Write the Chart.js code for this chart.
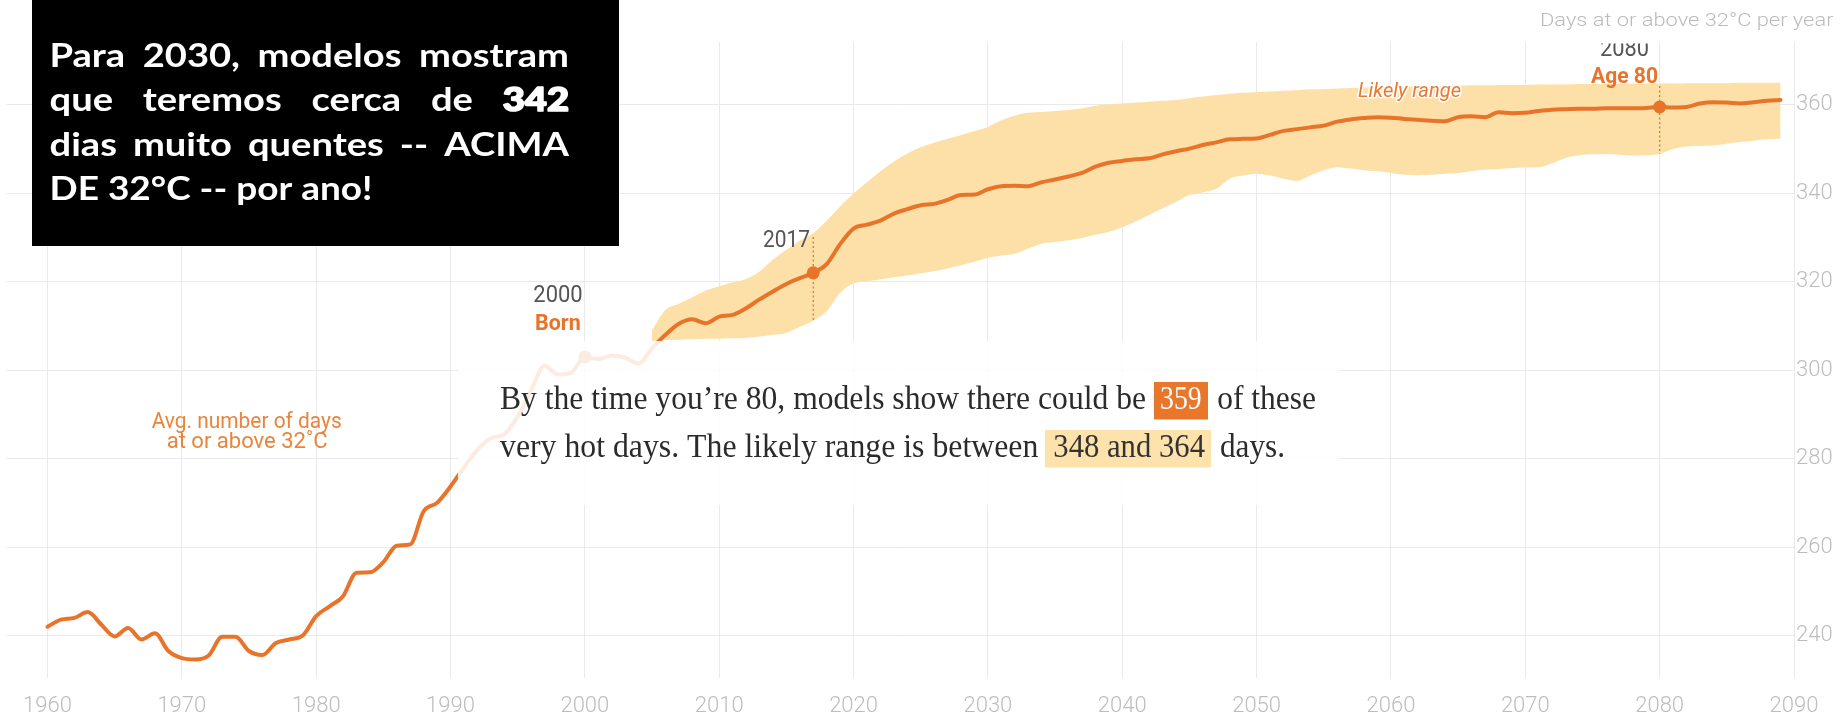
<!DOCTYPE html>
<html>
<head>
<meta charset="utf-8">
<script src="https://cdn.jsdelivr.net/npm/chart.js@4.4.1/dist/chart.umd.min.js"></script>
<style>
  html, body { margin: 0; padding: 0; background: #ffffff; }
  #wrap { position: relative; width: 1845px; height: 725px; }
</style>
</head>
<body>
<div id="wrap"><canvas id="c" width="1845" height="725"></canvas></div>
<script>
// ---------------- DATA ----------------
const years = [
  1960,1961,1962,1963,1964,1965,1966,1967,1968,1969,
  1970,1971,1972,1973,1974,1975,1976,1977,1978,1979,
  1980,1981,1982,1983,1984,1985,1986,1987,1988,1989,
  1990,1991,1992,1993,1994,1995,1996,1997,1998,1999,
  2000,2001,2002,2003,2004,2005,2006,2007,2008,2009,
  2010,2011,2012,2013,2014,2015,2016,2017,2018,2019,
  2020,2021,2022,2023,2024,2025,2026,2027,2028,2029,
  2030,2031,2032,2033,2034,2035,2036,2037,2038,2039,
  2040,2041,2042,2043,2044,2045,2046,2047,2048,2049,
  2050,2051,2052,2053,2054,2055,2056,2057,2058,2059,
  2060,2061,2062,2063,2064,2065,2066,2067,2068,2069,
  2070,2071,2072,2073,2074,2075,2076,2077,2078,2079,
  2080,2081,2082,2083,2084,2085,2086,2087,2088,2089
];
// Avg. number of days at or above 32°C
const avgDays = [
  242.0,243.6,244.0,245.3,242.5,239.8,241.7,239.1,240.5,236.5,
  234.9,234.6,235.5,239.7,239.7,236.5,235.6,238.3,239.1,240.0,
  244.4,246.6,248.9,254.2,254.3,256.6,260.3,260.6,268.1,270.0,
  273.7,278.0,282.0,284.6,285.5,289.5,295.5,301.0,299.0,299.5,
  303.0,302.5,303.3,302.8,301.5,305.0,308.0,310.5,311.5,310.6,
  312.1,312.5,314.0,316.0,317.8,319.5,320.8,322.0,324.0,328.5,
  332.0,332.9,333.8,335.4,336.4,337.3,337.6,338.5,339.6,339.7,
  340.9,341.6,341.7,341.6,342.5,343.1,343.8,344.6,346.0,346.9,
  347.3,347.7,347.9,348.8,349.5,350.1,350.9,351.5,352.2,352.3,
  352.4,353.2,354.1,354.5,354.9,355.3,356.2,356.7,357.0,357.2,
  357.1,356.8,356.6,356.4,356.3,357.2,357.4,357.2,358.3,358.1,
  358.2,358.6,358.9,359.0,359.1,359.1,359.2,359.2,359.2,359.3,
  359.5,359.4,359.5,360.3,360.6,360.5,360.3,360.6,360.9,361.1
];
// Likely range (projections)
const rangeYears = [
  2005,2006,2007,2008,2009,2010,2011,2012,2013,2014,
  2015,2016,2017,2018,2019,2020,2021,2022,2023,2024,
  2025,2026,2027,2028,2029,2030,2031,2032,2033,2034,
  2035,2036,2037,2038,2039,2040,2041,2042,2043,2044,
  2045,2046,2047,2048,2049,2050,2051,2052,2053,2054,
  2055,2056,2057,2058,2059,2060,2061,2062,2063,2064,
  2065,2066,2067,2068,2069,2070,2071,2072,2073,2074,
  2075,2076,2077,2078,2079,2080,2081,2082,2083,2084,
  2085,2086,2087,2088,2089
];
const rangeHigh = [
  309.0,313.6,315.0,316.5,318.0,319.0,319.8,320.6,322.3,325.0,
  327.2,329.3,331.0,333.8,337.0,340.0,342.5,345.0,347.2,349.0,
  350.4,351.4,352.3,353.2,354.1,355.0,356.5,357.6,358.2,358.4,
  358.6,358.8,359.2,359.8,360.1,360.3,360.5,360.7,360.9,361.1,
  361.5,361.9,362.2,362.5,362.7,362.9,363.0,363.2,363.3,363.5,
  363.6,363.7,363.8,363.9,364.0,364.0,364.1,364.2,364.2,364.3,
  364.3,364.4,364.4,364.5,364.5,364.5,364.6,364.6,364.6,364.7,
  364.7,364.7,364.8,364.8,364.8,364.8,364.8,364.9,364.9,364.9,
  364.9,365.0,365.0,365.0,365.0
];
const rangeLow = [
  306.5,306.8,306.9,307.0,307.1,307.1,307.2,307.3,307.6,308.0,
  308.4,309.8,311.2,313.3,317.5,319.6,320.1,320.5,321.0,321.4,
  321.9,322.4,323.0,323.7,324.5,325.4,325.9,326.3,327.5,328.6,
  329.0,329.4,329.9,330.6,331.3,332.3,333.6,335.1,336.6,338.0,
  339.6,340.2,341.0,343.3,344.0,344.4,344.0,343.3,342.8,344.0,
  345.2,345.9,345.6,345.2,345.0,344.6,344.2,344.1,344.2,344.4,
  344.6,345.0,345.3,345.5,345.7,345.8,345.9,346.8,348.0,348.6,
  348.8,348.9,348.7,348.5,348.6,348.9,350.0,350.6,350.7,350.8,
  351.2,351.6,351.9,352.2,352.3
];
const markerYears = [2000, 2017, 2080];
const xTickLabels = [1960,1970,1980,1990,2000,2010,2020,2030,2040,2050,2060,2070,2080,2090];
const yTickLabels = [240,260,280,300,320,340,360];

// ---------------- STYLE ----------------
const ORANGE = '#e8732a';
const BAND = '#fde0a7';
const GRID = '#e9e9e9';
const TICK = '#bdbdbd';

function fitText(ctx, text, left, base, width, font, color, opts) {
  ctx.save();
  ctx.font = font;
  const w = ctx.measureText(text).width;
  const s = width / w;
  ctx.translate(left, base);
  ctx.scale(s, 1);
  ctx.textAlign = 'left';
  ctx.textBaseline = 'alphabetic';
  if (opts && opts.halo) {
    ctx.lineWidth = opts.halo / s;
    ctx.strokeStyle = '#ffffff';
    ctx.lineJoin = 'round';
    ctx.strokeText(text, 0, 0);
  }
  ctx.fillStyle = color;
  ctx.fillText(text, 0, 0);
  ctx.restore();
}

function valueAt(arrYears, arr, yr) { return arr[arrYears.indexOf(yr)]; }

const annotations = {
  id: 'annotations',
  afterDatasetDraw(chart, args) {
    if (args.index !== 2) return;
    const {ctx, scales: {x, y}} = chart;
    ctx.save();
    ctx.strokeStyle = ORANGE;
    ctx.lineWidth = 1.3;
    ctx.setLineDash([2, 2.5]);
    const x17 = x.getPixelForValue(2017);
    ctx.beginPath();
    ctx.moveTo(x17, 237);
    ctx.lineTo(x17, y.getPixelForValue(valueAt(rangeYears, rangeLow, 2017)));
    ctx.stroke();
    const x80 = x.getPixelForValue(2080);
    ctx.beginPath();
    ctx.moveTo(x80, 86);
    ctx.lineTo(x80, y.getPixelForValue(valueAt(rangeYears, rangeLow, 2080)));
    ctx.stroke();
    ctx.restore();
  },
  afterDraw(chart) {
    const {ctx} = chart;
    const W = chart.width;

    // translucent text panel
    ctx.save();
    ctx.fillStyle = 'rgba(255,255,255,0.86)';
    ctx.fillRect(458, 341, 882, 164);
    ctx.restore();

    const serif = '34px "Liberation Serif", "DejaVu Serif", serif';
    const dark = '#2b2b2b';
    fitText(ctx, 'By the time you\u2019re 80, models show there could be', 500, 409.3, 646, serif, dark);
    ctx.fillStyle = '#e8762b';
    ctx.fillRect(1154, 382, 54, 37.5);
    fitText(ctx, '359', 1160, 409.3, 41.7, serif, '#ffffff');
    fitText(ctx, 'of these', 1217.3, 409.3, 98.7, serif, dark);

    fitText(ctx, 'very hot days. The likely range is between', 500, 457.3, 538.3, serif, dark);
    ctx.fillStyle = '#fde2ab';
    ctx.fillRect(1045, 430, 166, 37.5);
    fitText(ctx, '348 and 364', 1053.3, 457.3, 151.7, serif, '#333333');
    fitText(ctx, 'days.', 1220, 457.3, 65, serif, dark);

    // series label
    const lab = '400 22px Roboto, "Liberation Sans", sans-serif';
    fitText(ctx, 'Avg. number of days', 151.7, 428.3, 190, lab, '#e8843c');
    fitText(ctx, 'at or above 32\u02DAC', 166.7, 448.3, 161, lab, '#e8843c');

    // likely range
    fitText(ctx, 'Likely range', 1358, 97.3, 103, 'italic 400 21px Roboto, "Liberation Sans", sans-serif', '#e8782e', {halo: 3});

    // year annotations
    const reg = '400 23px Roboto, "Liberation Sans", sans-serif';
    const bold = '700 22px Roboto, "Liberation Sans", sans-serif';
    fitText(ctx, '2017', 763, 246.7, 47, reg, '#555555');
    fitText(ctx, '2000', 533.3, 301.7, 49.4, reg, '#555555');
    fitText(ctx, 'Born', 535, 330, 45.7, bold, ORANGE);
    fitText(ctx, 'Age 80', 1591, 83.3, 67, bold, ORANGE);
    ctx.save();
    ctx.beginPath();
    ctx.rect(0, 43.5, W, chart.height);
    ctx.clip();
    fitText(ctx, '2080', 1600, 56, 49, reg, '#555555');
    ctx.restore();

    // axis title
    fitText(ctx, 'Days at or above 32\u00B0C per year', 1540, 26, 293.5, '300 18px Roboto, "Liberation Sans", sans-serif', '#bbbbbb');

    // black callout
    ctx.save();
    ctx.fillStyle = '#000000';
    ctx.fillRect(32, 0, 587, 246);
    const fam = 'Lato, "Open Sans", sans-serif';
    const fB = '700 32px ' + fam;
    const fH = '900 32px ' + fam;
    const lines = [
      [['Para', fB], ['2030,', fB], ['modelos', fB], ['mostram', fB]],
      [['que', fB], ['teremos', fB], ['cerca', fB], ['de', fB], ['342', fH, true]],
      [['dias', fB], ['muito', fB], ['quentes', fB], ['--', fB], ['ACIMA', fB]],
      [['DE', fB], ['32\u00B0C', fB], ['--', fB], ['por', fB], ['ano!', fB]]
    ];
    const line1Words = lines[0].reduce((a, [t, f]) => { ctx.font = f; return a + ctx.measureText(t).width; }, 0);
    const sc = 467 / line1Words;
    ctx.font = fB;
    const last = 'DE 32\u00B0C -- por ano!';
    const scLast = 323 / ctx.measureText(last).width;
    const L = 49.5, R = 569;
    ctx.fillStyle = '#ffffff';
    ctx.strokeStyle = '#ffffff';
    ctx.textBaseline = 'alphabetic';
    lines.forEach((words, li) => {
      const base = 66.7 + li * 44.4;
      const s = li < lines.length - 1 ? sc : scLast;
      const widths = words.map(([t, f]) => { ctx.font = f; return ctx.measureText(t).width * s; });
      let gap;
      if (li < lines.length - 1) {
        gap = (R - L - widths.reduce((a, b) => a + b, 0)) / (words.length - 1);
      } else {
        ctx.font = fB;
        gap = ctx.measureText(' ').width * s;
      }
      let cx = L;
      words.forEach(([t, f, heavy], wi) => {
        ctx.save();
        ctx.font = f;
        ctx.translate(cx, base);
        ctx.scale(s, 1);
        if (heavy) { ctx.lineWidth = 1.6; ctx.lineJoin = 'round'; ctx.strokeText(t, 0, 0); }
        ctx.fillText(t, 0, 0);
        ctx.restore();
        cx += widths[wi] + gap;
      });
    });
    ctx.restore();
  }
};

const linePts = years.map((yr, i) => ({x: yr, y: avgDays[i]}));
const markerPts = markerYears.map(yr => ({x: yr, y: avgDays[years.indexOf(yr)]}));
const highPts = rangeYears.map((yr, i) => ({x: yr, y: rangeHigh[i]}));
const lowPts = rangeYears.map((yr, i) => ({x: yr, y: rangeLow[i]}));

new Chart(document.getElementById('c'), {
  type: 'line',
  data: {
    datasets: [
      { label: 'Avg. number of days', data: linePts, borderColor: ORANGE, borderWidth: 4,
        pointRadius: 0, fill: false, cubicInterpolationMode: 'monotone', order: 1,
        borderCapStyle: 'round', borderJoinStyle: 'round' },
      { label: 'Markers', data: markerPts, showLine: false, pointRadius: 6.5,
        pointBackgroundColor: ORANGE, pointBorderColor: ORANGE, pointBorderWidth: 0, order: 0 },
      { label: 'Likely range high', data: highPts, borderWidth: 0, borderColor: BAND,
        backgroundColor: BAND, pointRadius: 0, fill: '+1', cubicInterpolationMode: 'monotone', order: 2 },
      { label: 'Likely range low', data: lowPts, borderWidth: 0, borderColor: BAND,
        backgroundColor: BAND, pointRadius: 0, fill: false, cubicInterpolationMode: 'monotone', order: 3 }
    ]
  },
  options: {
    responsive: false,
    animation: false,
    devicePixelRatio: 1,
    layout: { padding: { left: 5, top: 42, right: 0, bottom: 0 } },
    plugins: { legend: { display: false }, tooltip: { enabled: false } },
    scales: {
      x: {
        type: 'linear', position: 'bottom', min: 1956.95, max: 2090,
        afterBuildTicks: s => { s.ticks = xTickLabels.map(v => ({value: v})); },
        afterFit: s => { s.height = 47; },
        grid: { color: GRID, lineWidth: 1, drawTicks: false },
        border: { display: false },
        ticks: { color: TICK, font: { family: 'Roboto', size: 22, weight: '300' }, padding: 15,
                 maxRotation: 0, autoSkip: false, callback: v => String(v) }
      },
      y: {
        type: 'linear', position: 'right', min: 230.4, max: 374.2,
        afterBuildTicks: s => { s.ticks = yTickLabels.map(v => ({value: v})); },
        afterFit: s => { s.width = 51; },
        grid: { color: GRID, lineWidth: 1, drawTicks: false },
        border: { display: false },
        ticks: { color: TICK, font: { family: 'Roboto', size: 22, weight: '300' }, padding: 2,
                 autoSkip: false, callback: v => String(v) }
      }
    }
  },
  plugins: [annotations]
});
</script>
</body>
</html>
